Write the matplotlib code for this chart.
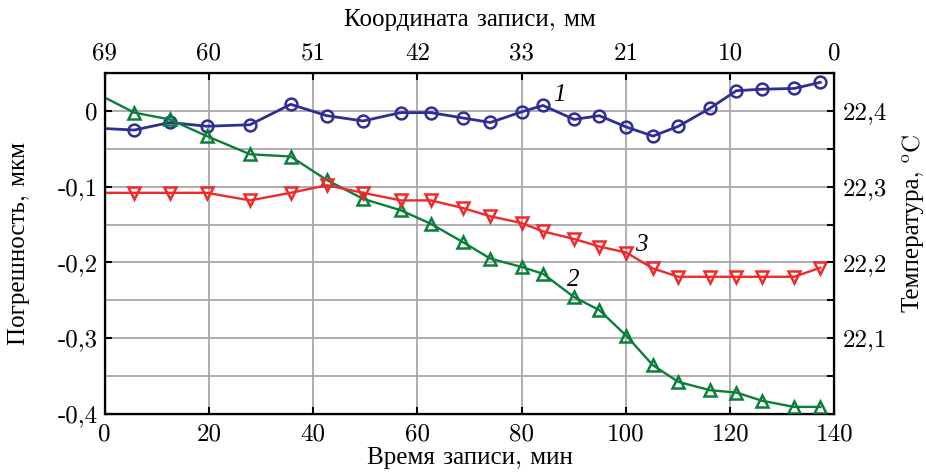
import matplotlib
matplotlib.use('Agg')
import matplotlib.pyplot as plt
from matplotlib.ticker import MultipleLocator

plt.rcParams['font.family'] = ['cmr10', 'Liberation Serif']
plt.rcParams['axes.unicode_minus'] = False
plt.rcParams['mathtext.fontset'] = 'cm'

# time of recording, min (first point is the line start, no marker)
t = [0, 5.7, 12.5, 19.6, 27.9, 35.7, 42.6, 49.6, 56.8, 62.6, 68.7, 74.0,
     80.0, 84.1, 90.1, 94.9, 100.1, 105.2, 110.1, 116.2, 121.2, 126.2,
     132.3, 137.3]

err_1 = [-0.023, -0.025, -0.015, -0.020, -0.018, 0.009, -0.006, -0.013,
         -0.002, -0.002, -0.009, -0.015, -0.001, 0.0075, -0.011, -0.006,
         -0.021, -0.033, -0.020, 0.004, 0.027, 0.029, 0.030, 0.038]
err_2 = [0.018, -0.002, -0.011, -0.033, -0.057, -0.060, -0.091, -0.116,
         -0.131, -0.149, -0.173, -0.195, -0.206, -0.215, -0.246, -0.263,
         -0.297, -0.336, -0.358, -0.369, -0.372, -0.383, -0.391, -0.391]
err_3 = [-0.108, -0.108, -0.108, -0.108, -0.118, -0.108, -0.098, -0.108,
         -0.118, -0.118, -0.128, -0.139, -0.148, -0.159, -0.169, -0.179,
         -0.187, -0.208, -0.219, -0.219, -0.219, -0.219, -0.219, -0.207]

top_labels = ['69', '60', '51', '42', '33', '21', '10', '0']
left_labels = ['-0,4', '-0,3', '-0,2', '-0,1', '0']
right_labels = ['22,1', '22,2', '22,3', '22,4']

fs = 18
W, H = 926, 472

fig = plt.figure(figsize=(W / 100, H / 100), dpi=100)
ax = fig.add_axes([0.113, 0.1235, 0.788, 0.7212])

for y in [-0.35, -0.3, -0.25, -0.2, -0.15, -0.1, -0.05, 0.0]:
    ax.axhline(y, color='#a8a8a8', lw=1.3, zorder=0)
for x in range(20, 140, 20):
    ax.axvline(x, color='#a8a8a8', lw=1.3, zorder=0)

marks = list(range(1, len(t)))
ax.plot(t, err_1, color='#2e2e96', lw=2.0, marker='o', ms=8.5,
        mfc='none', mew=1.8, markevery=marks, zorder=3)
ax.plot(t, err_2, color='#0a7f3a', lw=1.7, marker='^', ms=8.5,
        mfc='none', mew=1.8, markevery=marks, zorder=3)
ax.plot(t, err_3, color='#ee2a2a', lw=1.7, marker='v', ms=8.5,
        mfc='none', mew=1.8, markevery=marks, zorder=3)

for lab, xx, yy in [('1', 87.2, 0.021), ('2', 89.9, -0.223), ('3', 103.0, -0.177)]:
    ax.text(xx, yy, lab, fontsize=fs, style='italic', family='Liberation Serif',
            ha='center', va='center')

ax.set_xlim(0, 140)
ax.set_ylim(-0.4, 0.05)
ax.set_xticks(range(0, 141, 20))
ax.set_yticks([-0.4, -0.3, -0.2, -0.1, 0.0])
ax.set_yticklabels(left_labels)
ax.tick_params(direction='in', length=5, width=1.5, labelsize=fs, pad=5)
ax.tick_params(axis='x', pad=7)
for s in ax.spines.values():
    s.set_linewidth(1.6)
ax.set_xlabel('Время записи, мин', fontsize=fs, labelpad=1)
ax.set_ylabel('Погрешность, мкм', fontsize=fs, labelpad=20)

top = ax.twiny()
top.set_xlim(0, 140)
top.set_xticks(range(0, 141, 20))
top.set_xticklabels(top_labels)
top.tick_params(direction='in', length=5, width=1.5, labelsize=fs, pad=6)
top.set_xlabel('Координата записи, мм', fontsize=fs, labelpad=12)

right = ax.twinx()
right.set_ylim(22.0, 22.45)
right.set_yticks([22.1, 22.2, 22.3, 22.4])
right.set_yticklabels(right_labels)
right.yaxis.set_minor_locator(MultipleLocator(0.05))
right.tick_params(which='both', direction='in', length=5, width=1.5,
                  labelsize=fs, pad=6)

# right axis label: text plus a raised "o" before C
t1 = fig.text(919 / W, 1 - 312 / H, 'Температура,', fontsize=fs, rotation=90,
              ha='left', va='baseline', rotation_mode='anchor')
fig.canvas.draw()
bb = t1.get_window_extent()
fig.text(919 / W, (bb.y1 + 6) / H, '$^{\\rm o}$C', fontsize=fs, rotation=90,
         ha='left', va='baseline', rotation_mode='anchor')

fig.savefig('out.png', dpi=100)
